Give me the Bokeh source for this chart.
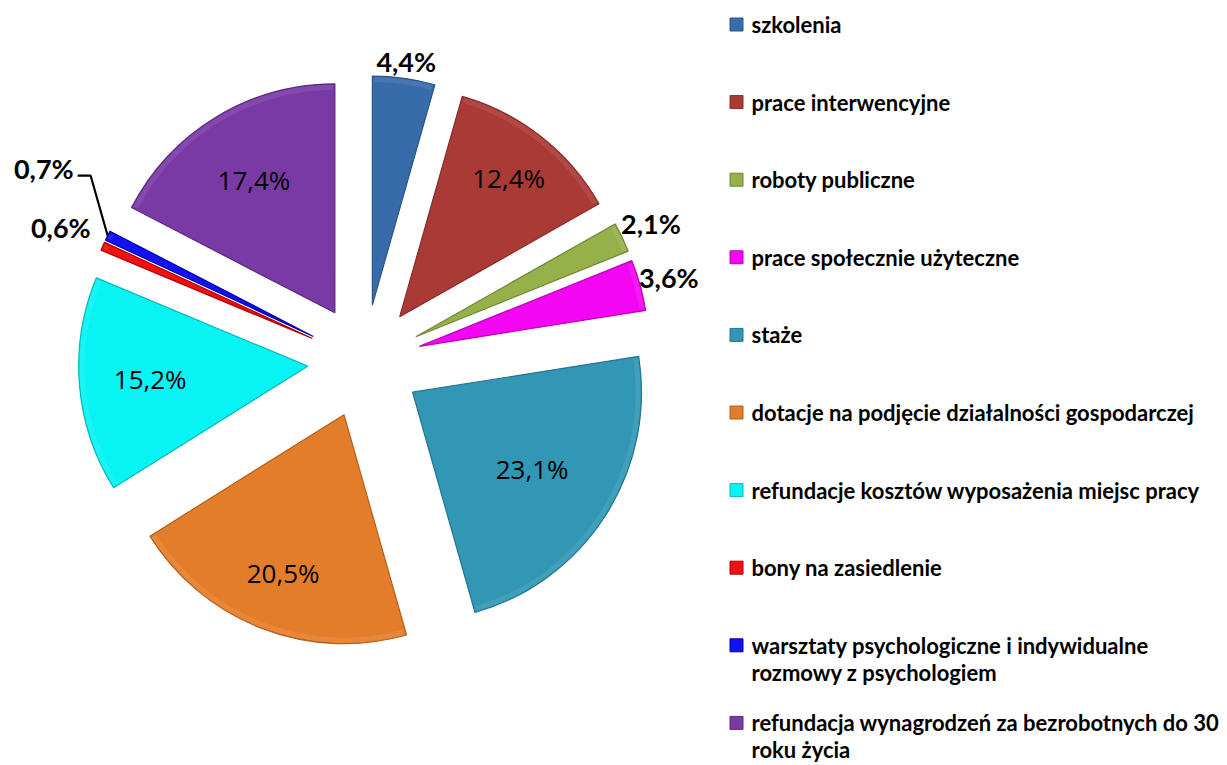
import numpy as np
from bokeh.plotting import figure
from bokeh.models import Range1d, ColumnDataSource
from bokeh.core.properties import value
from bokeh.embed import file_html
from bokeh.resources import INLINE

# ---------------- data ----------------
categories = [
    "szkolenia",
    "prace interwencyjne",
    "roboty publiczne",
    "prace społecznie użyteczne",
    "staże",
    "dotacje na podjęcie działalności gospodarczej",
    "refundacje kosztów wyposażenia miejsc pracy",
    "bony na zasiedlenie",
    "warsztaty psychologiczne i indywidualne\nrozmowy z psychologiem",
    "refundacja wynagrodzeń za bezrobotnych do 30\nroku życia",
]
shares = [4.4, 12.4, 2.1, 3.6, 23.1, 20.5, 15.2, 0.6, 0.7, 17.4]

# ---------------- style ----------------
colors = ["#386BAA", "#AA3A36", "#96B04A", "#F405F4", "#3197B4",
          "#E47D2A", "#08F4F4", "#F01010", "#1212F0", "#7A3AA5"]
edges = ["#2B5589", "#872C29", "#6F8634", "#B800B8", "#237690",
         "#B65F1C", "#00BABA", "#B00000", "#0000B0", "#5B2A7D"]
# label distance from slice apex, in radii; outside labels are bold
label_dist = [1.075, 0.77, 1.14, 1.13, 0.62, 0.74, 0.69, 1.20, None, 0.68]
label_outside = [True, False, True, True, False, False, False, True, True, False]

W, H = 1227, 765
CX, CY = 364, H - 361      # pie centre (data units == pixels)
R = 229                    # radius
EXPLODE = 57               # explosion distance

p = figure(width=W, height=H, x_range=Range1d(0, W), y_range=Range1d(0, H),
           output_backend="svg", toolbar_location=None,
           x_axis_location=None, y_axis_location=None, min_border=0)
p.grid.visible = False
p.outline_line_color = None
p.background_fill_color = "white"

vals = np.array(shares, dtype=float)
cum = np.concatenate([[0], np.cumsum(vals)]) / vals.sum() * 360.0
t1, t2 = cum[:-1], cum[1:]               # clockwise from 12 o'clock
mid = np.radians((t1 + t2) / 2)
ax = CX + EXPLODE * np.sin(mid)
ay = CY + EXPLODE * np.cos(mid)
start = np.radians(90 - t2)
end = np.radians(90 - t1)

src = ColumnDataSource(dict(x=ax, y=ay, start=start, end=end,
                            fill=colors, edge=edges))
p.wedge(x="x", y="y", radius=R, start_angle="start", end_angle="end",
        fill_color="fill", line_color="edge", line_width=1.2, source=src)

# subtle bevel near the rim
lighter = []
for c in colors:
    r_, g_, b_ = int(c[1:3], 16), int(c[3:5], 16), int(c[5:7], 16)
    lighter.append("#%02x%02x%02x" % tuple(min(255, int(v + (255 - v) * 0.18)) for v in (r_, g_, b_)))
p.annular_wedge(x=ax, y=ay, inner_radius=R - 6, outer_radius=R - 1,
                start_angle=start + 0.01, end_angle=end - 0.01,
                fill_color=lighter, fill_alpha=0.45, line_color=None)

# ---------------- value labels ----------------
labels = [("%.1f%%" % v).replace(".", ",") for v in shares]
ox, oy, ot, ix, iy, it = [], [], [], [], [], []
for i in range(len(shares)):
    if label_dist[i] is None:
        continue
    d = label_dist[i] * R
    x_ = ax[i] + d * np.sin(mid[i])
    y_ = ay[i] + d * np.cos(mid[i])
    if label_outside[i]:
        ox.append(x_); oy.append(y_); ot.append(labels[i])
    else:
        ix.append(x_); iy.append(y_); it.append(labels[i])

p.text(x=ox, y=oy, text=ot, text_font=value("Lato"),
       text_font_style="bold", text_font_size="27px", text_color="black",
       text_align="center", text_baseline="middle")
p.text(x=ix, y=iy, text=it, text_font=value("Open Sans"),
       text_font_style="normal", text_font_size="26px", text_color="black",
       text_align="center", text_baseline="middle")

# label with leader line for the 0,7% slice
j = 8
arc_x = ax[j] + R * np.sin(mid[j])
arc_y = ay[j] + R * np.cos(mid[j])
elbow_x, elbow_y = arc_x - 17, arc_y + 60
p.line(x=[arc_x, elbow_x, elbow_x - 13], y=[arc_y, elbow_y, elbow_y],
       line_color="black", line_width=2.2)
p.text(x=[elbow_x - 17], y=[elbow_y + 7], text=[labels[j]],
       text_font=value("Lato"), text_font_style="bold",
       text_font_size="27px", text_color="black",
       text_align="right", text_baseline="middle")

# ---------------- legend ----------------
LEG_X = 736
LEG_TOP = H - 24
LEG_STEP = 77.6
LINE_STEP = 27
tx, ty, tt = [], [], []
for i, cat in enumerate(categories):
    yc = LEG_TOP - i * LEG_STEP
    for k, line in enumerate(cat.split("\n")):
        tx.append(LEG_X + 15)
        ty.append(yc - k * LINE_STEP)
        tt.append(line)
p.scatter(x=[LEG_X] * len(categories),
          y=[LEG_TOP - i * LEG_STEP for i in range(len(categories))],
          marker="square", size=13, fill_color=colors, line_color=edges,
          line_width=1)
p.text(x=tx, y=ty, text=tt, text_font=value("Lato"), text_font_style="bold",
       text_font_size="22px", text_color="black", text_align="left",
       text_baseline="middle")

open("out.html", "w").write(file_html(p, INLINE))
